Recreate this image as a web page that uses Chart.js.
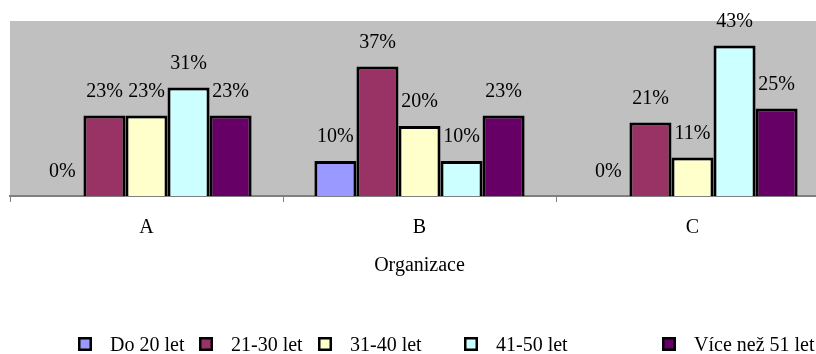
<!DOCTYPE html>
<html>
<head>
<meta charset="utf-8">
<script src="https://cdn.jsdelivr.net/npm/chart.js@4/dist/chart.umd.min.js"></script>
<style>
  html, body { margin: 0; padding: 0; background: #ffffff; overflow: hidden; }
  #wrap { width: 840px; height: 354px; position: relative; }
</style>
</head>
<body>
<div id="wrap"><canvas id="chart"></canvas></div>
<script>
// Organisations on the category axis
const categories = ['A', 'B', 'C'];

// Age groups (series names)
const seriesNames = ['Do 20 let', '21-30 let', '31-40 let', '41-50 let', 'Více než 51 let'];

// Share of employees in each age group, per organisation (%)
const do20 = [0, 10, 0];
const let21_30 = [23, 37, 21];
const let31_40 = [23, 20, 11];
const let41_50 = [31, 10, 43];
const vice51 = [23, 23, 25];

const axisTitle = 'Organizace';
const yMax = 50;

const seriesValues = [do20, let21_30, let31_40, let41_50, vice51];
const seriesColors = ['#9999FF', '#993366', '#FFFFCC', '#CCFFFF', '#660066'];

// Legend layout along the bottom edge: box x positions
const legendBoxX = [78, 199, 318, 464, 662];
const FONT = "'Liberation Serif', 'Times New Roman', serif";

// Grey plot background
const plotBackground = {
  id: 'plotBackground',
  beforeDraw(chart) {
    const { ctx, chartArea: a } = chart;
    ctx.save();
    ctx.fillStyle = '#C0C0C0';
    ctx.fillRect(a.left, a.top, a.right - a.left, a.bottom - a.top);
    ctx.restore();
  }
};

// Percentage labels above each bar
const valueLabels = {
  id: 'valueLabels',
  afterDatasetsDraw(chart) {
    const { ctx } = chart;
    ctx.save();
    ctx.font = '20px ' + FONT;
    ctx.fillStyle = '#000000';
    ctx.textAlign = 'center';
    ctx.textBaseline = 'middle';
    chart.data.datasets.forEach((ds, i) => {
      const meta = chart.getDatasetMeta(i);
      meta.data.forEach((bar, j) => {
        ctx.fillText(ds.data[j] + '%', bar.x, bar.y - 24);
      });
    });
    ctx.restore();
  }
};

// Legend row with square swatches
const legendRow = {
  id: 'legendRow',
  afterDraw(chart) {
    const { ctx } = chart;
    ctx.save();
    ctx.font = '20px ' + FONT;
    ctx.textBaseline = 'alphabetic';
    ctx.textAlign = 'left';
    chart.data.datasets.forEach((ds, i) => {
      const x = legendBoxX[i];
      ctx.fillStyle = ds.backgroundColor;
      ctx.fillRect(x, 337, 14, 14);
      ctx.lineWidth = 2.5;
      ctx.strokeStyle = '#000000';
      ctx.strokeRect(x + 1.25, 338.25, 11.5, 11.5);
      ctx.fillStyle = '#000000';
      ctx.fillText(ds.label, x + 32, 351);
    });
    ctx.restore();
  }
};

new Chart(document.getElementById('chart'), {
  type: 'bar',
  data: {
    labels: categories,
    datasets: seriesNames.map((name, i) => ({
      label: name,
      data: seriesValues[i],
      backgroundColor: seriesColors[i],
      borderColor: '#000000',
      borderWidth: 3,
      borderSkipped: 'bottom',
      categoryPercentage: 0.77,
      barPercentage: 1.0
    }))
  },
  options: {
    responsive: true,
    maintainAspectRatio: false,
    animation: false,
    layout: { padding: { top: 21, left: 10, right: 11, bottom: 0 } },
    plugins: {
      legend: { display: false },
      tooltip: { enabled: false }
    },
    scales: {
      x: {
        afterFit(scale) { scale.height = 158; },
        border: { display: true, color: '#808080', width: 2 },
        grid: {
          display: true,
          offset: true,
          drawOnChartArea: false,
          drawTicks: true,
          tickLength: 6,
          color: '#808080',
          lineWidth: 1
        },
        ticks: {
          color: '#000000',
          padding: 14,
          font: { family: FONT, size: 20 }
        },
        title: {
          display: true,
          text: axisTitle,
          color: '#000000',
          font: { family: FONT, size: 20 },
          padding: { top: 0, bottom: 76 }
        }
      },
      y: {
        display: false,
        min: 0,
        max: yMax
      }
    }
  },
  plugins: [plotBackground, valueLabels, legendRow]
});
</script>
</body>
</html>
